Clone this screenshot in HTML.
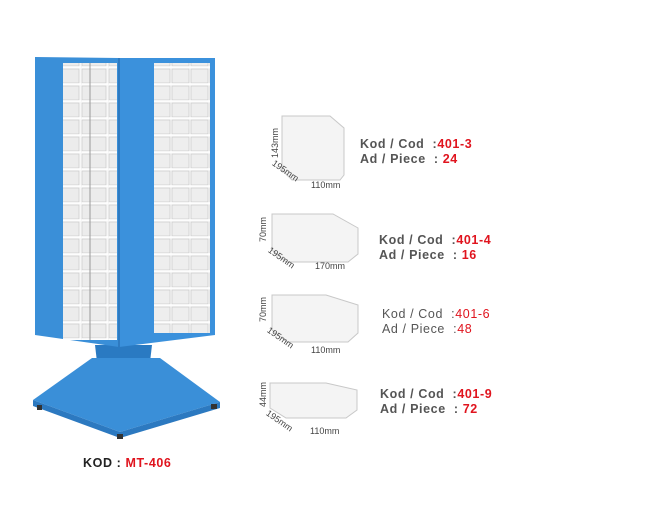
<!DOCTYPE html>
<html><head><style>
body{margin:0;background:#fff;width:660px;height:524px;overflow:hidden;font-family:"Liberation Sans",sans-serif}
.t{position:absolute;font-weight:bold;font-size:12.5px;color:#555;letter-spacing:0.6px;line-height:15px;white-space:pre}
.r{color:#e0141e}
.d{position:absolute;font-size:9px;color:#444;font-family:"Liberation Sans",sans-serif;transform-origin:0 0}
</style></head><body>
<svg width="660" height="524" style="position:absolute;left:0;top:0">
<defs>
<pattern id="g2" width="27" height="17" patternUnits="userSpaceOnUse"><rect width="27" height="17" fill="#f7f7f7"/><rect x="1" y="1" width="24" height="14" fill="#ececec" stroke="#c4c4c4" stroke-width="0.6"/><line x1="1" y1="16" x2="27" y2="16" stroke="#fff" stroke-width="1.5"/></pattern>
<pattern id="g3" width="19" height="17" patternUnits="userSpaceOnUse"><rect width="19" height="17" fill="#f7f7f7"/><rect x="1" y="1" width="17" height="14" fill="#eeeeee" stroke="#c4c4c4" stroke-width="0.6"/><line x1="0" y1="16" x2="19" y2="16" stroke="#fff" stroke-width="1.5"/></pattern>
</defs>
<!-- base -->
<polygon points="95,345 152,345 150,362 97,362" fill="#2a7ac2"/>
<polygon points="92,358 160,358 220,402 120,432 33,400" fill="#3a8fd8"/>
<polygon points="33,400 120,432 220,402 220,408 120,438 33,406" fill="#2c79c0"/>
<rect x="37" y="405" width="5" height="5" fill="#333"/><rect x="117" y="434" width="6" height="5" fill="#333"/><rect x="211" y="404" width="6" height="5" fill="#333"/>
<!-- cabinet -->
<polygon points="35,57 119,58 119,347 35,335" fill="#3a8fd8"/>
<polygon points="119,58 215,58 215,335 119,347" fill="#3b91dc"/>
<line x1="119" y1="58" x2="119" y2="347" stroke="#2a73b8" stroke-width="1.5"/>
<rect x="63" y="63" width="54" height="277" fill="url(#g2)"/>
<rect x="154" y="63" width="56" height="270" fill="url(#g3)"/>
<line x1="90" y1="63" x2="90" y2="340" stroke="#999" stroke-width="1"/>
</svg>
<svg width="660" height="524" style="position:absolute;left:0;top:0">
<g fill="#f4f4f4" stroke="#c8c8c8" stroke-width="1">
<polygon points="282,116 330,116 344,128 344,175 340,180 292,180 282,170"/>
<polygon points="272,214 333,214 358,228 358,254 348,262 286,262 272,250"/>
<polygon points="272,295 326,295 358,305 358,333 348,342 287,342 272,330"/>
<polygon points="270,383 326,383 357,390 357,410 346,418 286,418 270,408"/>
</g>
</svg>
<div class="d" style="left:270px;top:158px;transform:rotate(-90deg)">143mm</div>
<div class="d" style="left:276px;top:158px;transform:rotate(35deg)">195mm</div>
<div class="d" style="left:311px;top:180px">110mm</div>
<div class="d" style="left:258px;top:242px;transform:rotate(-90deg)">70mm</div>
<div class="d" style="left:272px;top:245px;transform:rotate(35deg)">195mm</div>
<div class="d" style="left:315px;top:261px">170mm</div>
<div class="d" style="left:258px;top:322px;transform:rotate(-90deg)">70mm</div>
<div class="d" style="left:271px;top:325px;transform:rotate(35deg)">195mm</div>
<div class="d" style="left:311px;top:345px">110mm</div>
<div class="d" style="left:258px;top:407px;transform:rotate(-90deg)">44mm</div>
<div class="d" style="left:270px;top:408px;transform:rotate(35deg)">195mm</div>
<div class="d" style="left:310px;top:426px">110mm</div>
<div class="t" style="left:360px;top:137px">Kod / Cod  :<span class="r">401-3</span>
Ad / Piece  : <span class="r">24</span></div>
<div class="t" style="left:379px;top:233px">Kod / Cod  :<span class="r">401-4</span>
Ad / Piece  : <span class="r">16</span></div>
<div class="t" style="left:382px;top:307px;font-weight:normal">Kod / Cod  :<span class="r">401-6</span>
Ad / Piece  :<span class="r">48</span></div>
<div class="t" style="left:380px;top:387px">Kod / Cod  :<span class="r">401-9</span>
Ad / Piece  : <span class="r">72</span></div>
<div class="t" style="left:83px;top:456px;color:#222">KOD : <span class="r">MT-406</span></div>
</body></html>
